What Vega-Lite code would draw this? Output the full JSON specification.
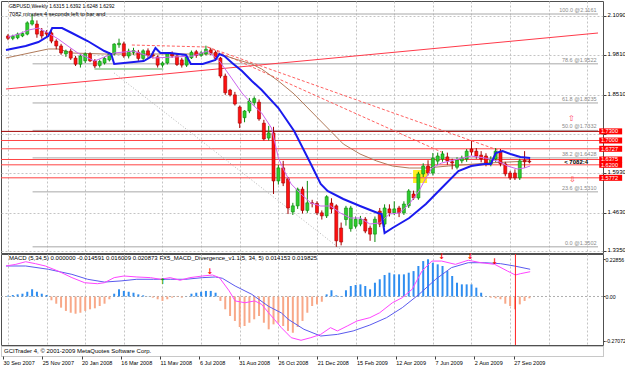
{
"$schema": "https://vega.github.io/schema/vega-lite/v6.json",
"background": "#ffffff",
"padding": 0,
"spacing": 1,
"bounds": "flush",
"resolve": {"scale": {"x": "independent", "y": "independent"}},
"config": {
  "font": "Liberation Sans",
  "view": {"stroke": "#505050", "strokeWidth": 1},
  "axis": {"labelFont": "Liberation Sans", "labelFontSize": 6, "labelColor": "#000000", "tickColor": "#404040", "domain": false, "gridColor": "#c4c4c4", "gridDash": [2, 2], "gridWidth": 1}
},
"datasets": {
  "candles": [
    {"t":0,"o":2.044,"h":2.05,"l":2.03,"c":2.036},{"t":1,"o":2.036,"h":2.048,"l":2.03,"c":2.043},{"t":2,"o":2.038,"h":2.055,"l":2.033,"c":2.05},{"t":3,"o":2.044,"h":2.058,"l":2.04,"c":2.052},{"t":4,"o":2.05,"h":2.092,"l":2.046,"c":2.087},{"t":5,"o":2.083,"h":2.1161,"l":2.078,"c":2.094},{"t":6,"o":2.083,"h":2.095,"l":2.038,"c":2.05},{"t":7,"o":2.06,"h":2.07,"l":2.035,"c":2.044},{"t":8,"o":2.055,"h":2.063,"l":2.04,"c":2.05},{"t":9,"o":2.054,"h":2.06,"l":2.02,"c":2.027},
    {"t":10,"o":2.027,"h":2.033,"l":2.0,"c":2.011},{"t":11,"o":2.011,"h":2.018,"l":1.982,"c":1.988},{"t":12,"o":1.985,"h":1.999,"l":1.975,"c":1.994},{"t":13,"o":1.994,"h":2.002,"l":1.965,"c":1.971},{"t":14,"o":1.971,"h":1.978,"l":1.945,"c":1.951},{"t":15,"o":1.951,"h":1.985,"l":1.94,"c":1.978},{"t":16,"o":1.962,"h":1.99,"l":1.955,"c":1.985},{"t":17,"o":1.985,"h":1.99,"l":1.958,"c":1.962},{"t":18,"o":1.962,"h":1.968,"l":1.938,"c":1.945},{"t":19,"o":1.947,"h":1.966,"l":1.94,"c":1.96},
    {"t":20,"o":1.955,"h":1.975,"l":1.95,"c":1.97},{"t":21,"o":1.965,"h":1.99,"l":1.96,"c":1.985},{"t":22,"o":1.985,"h":2.02,"l":1.98,"c":2.017},{"t":23,"o":2.015,"h":2.035,"l":2.005,"c":2.02},{"t":24,"o":2.018,"h":2.025,"l":1.972,"c":1.978},{"t":25,"o":1.978,"h":2.002,"l":1.97,"c":1.994},{"t":26,"o":1.99,"h":2.005,"l":1.982,"c":1.996},{"t":27,"o":1.99,"h":1.998,"l":1.962,"c":1.97},{"t":28,"o":1.97,"h":2.0,"l":1.962,"c":1.995},{"t":29,"o":1.995,"h":2.003,"l":1.972,"c":1.98},
    {"t":30,"o":1.982,"h":1.992,"l":1.97,"c":1.978},{"t":31,"o":1.975,"h":1.98,"l":1.94,"c":1.948},{"t":32,"o":1.948,"h":1.96,"l":1.94,"c":1.955},{"t":33,"o":1.955,"h":1.99,"l":1.95,"c":1.985},{"t":34,"o":1.985,"h":1.993,"l":1.972,"c":1.978},{"t":35,"o":1.978,"h":1.985,"l":1.945,"c":1.95},{"t":36,"o":1.965,"h":1.972,"l":1.94,"c":1.948},{"t":37,"o":1.948,"h":1.98,"l":1.942,"c":1.975},{"t":38,"o":1.972,"h":1.996,"l":1.968,"c":1.99},{"t":39,"o":1.992,"h":1.998,"l":1.972,"c":1.98},
    {"t":40,"o":1.98,"h":1.994,"l":1.975,"c":1.988},{"t":41,"o":1.985,"h":2.012,"l":1.98,"c":2.0},{"t":42,"o":1.998,"h":2.005,"l":1.982,"c":1.988},{"t":43,"o":1.99,"h":1.996,"l":1.965,"c":1.97},{"t":44,"o":1.971,"h":1.975,"l":1.905,"c":1.912},{"t":45,"o":1.912,"h":1.92,"l":1.85,"c":1.857},{"t":46,"o":1.866,"h":1.87,"l":1.845,"c":1.85},{"t":47,"o":1.85,"h":1.86,"l":1.815,"c":1.82},{"t":48,"o":1.81,"h":1.815,"l":1.741,"c":1.757},{"t":49,"o":1.775,"h":1.8,"l":1.76,"c":1.797},
    {"t":50,"o":1.797,"h":1.84,"l":1.79,"c":1.83},{"t":51,"o":1.825,"h":1.845,"l":1.815,"c":1.838},{"t":52,"o":1.826,"h":1.835,"l":1.765,"c":1.771},{"t":53,"o":1.757,"h":1.768,"l":1.7,"c":1.705},{"t":54,"o":1.708,"h":1.748,"l":1.7,"c":1.725},{"t":55,"o":1.725,"h":1.745,"l":1.524,"c":1.567},{"t":56,"o":1.567,"h":1.62,"l":1.555,"c":1.61},{"t":57,"o":1.61,"h":1.633,"l":1.55,"c":1.56},{"t":58,"o":1.574,"h":1.58,"l":1.458,"c":1.478},{"t":59,"o":1.465,"h":1.495,"l":1.455,"c":1.485},
    {"t":60,"o":1.485,"h":1.545,"l":1.475,"c":1.54},{"t":61,"o":1.54,"h":1.548,"l":1.46,"c":1.47},{"t":62,"o":1.47,"h":1.567,"l":1.462,"c":1.495},{"t":63,"o":1.495,"h":1.505,"l":1.48,"c":1.493},{"t":64,"o":1.493,"h":1.5,"l":1.455,"c":1.462},{"t":65,"o":1.462,"h":1.47,"l":1.44,"c":1.452},{"t":66,"o":1.452,"h":1.52,"l":1.445,"c":1.515},{"t":67,"o":1.494,"h":1.51,"l":1.46,"c":1.475},{"t":68,"o":1.485,"h":1.49,"l":1.3502,"c":1.37},{"t":69,"o":1.412,"h":1.43,"l":1.355,"c":1.366},
    {"t":70,"o":1.44,"h":1.485,"l":1.42,"c":1.478},{"t":71,"o":1.41,"h":1.485,"l":1.4,"c":1.478},{"t":72,"o":1.418,"h":1.45,"l":1.41,"c":1.441},{"t":73,"o":1.425,"h":1.452,"l":1.418,"c":1.441},{"t":74,"o":1.441,"h":1.448,"l":1.395,"c":1.402},{"t":75,"o":1.412,"h":1.42,"l":1.37,"c":1.392},{"t":76,"o":1.392,"h":1.45,"l":1.366,"c":1.441},{"t":77,"o":1.468,"h":1.478,"l":1.415,"c":1.425},{"t":78,"o":1.425,"h":1.49,"l":1.415,"c":1.478},{"t":79,"o":1.475,"h":1.49,"l":1.45,"c":1.462},
    {"t":80,"o":1.462,"h":1.5,"l":1.455,"c":1.475},{"t":81,"o":1.478,"h":1.485,"l":1.448,"c":1.462},{"t":82,"o":1.462,"h":1.5,"l":1.455,"c":1.491},{"t":83,"o":1.485,"h":1.54,"l":1.478,"c":1.534},{"t":84,"o":1.524,"h":1.535,"l":1.505,"c":1.511},{"t":85,"o":1.511,"h":1.597,"l":1.505,"c":1.59},{"t":86,"o":1.59,"h":1.625,"l":1.58,"c":1.616},{"t":87,"o":1.616,"h":1.635,"l":1.585,"c":1.593},{"t":88,"o":1.593,"h":1.659,"l":1.585,"c":1.642},{"t":89,"o":1.632,"h":1.66,"l":1.62,"c":1.649},
    {"t":90,"o":1.639,"h":1.665,"l":1.63,"c":1.656},{"t":91,"o":1.646,"h":1.66,"l":1.62,"c":1.633},{"t":92,"o":1.63,"h":1.64,"l":1.605,"c":1.626},{"t":93,"o":1.612,"h":1.645,"l":1.605,"c":1.636},{"t":94,"o":1.633,"h":1.65,"l":1.625,"c":1.642},{"t":95,"o":1.639,"h":1.672,"l":1.63,"c":1.665},{"t":96,"o":1.672,"h":1.698,"l":1.65,"c":1.662},{"t":97,"o":1.665,"h":1.675,"l":1.64,"c":1.649},{"t":98,"o":1.652,"h":1.665,"l":1.628,"c":1.639},{"t":99,"o":1.649,"h":1.658,"l":1.615,"c":1.626},
    {"t":100,"o":1.623,"h":1.648,"l":1.615,"c":1.639},{"t":101,"o":1.639,"h":1.675,"l":1.63,"c":1.665},{"t":102,"o":1.665,"h":1.672,"l":1.615,"c":1.623},{"t":103,"o":1.623,"h":1.63,"l":1.582,"c":1.59},{"t":104,"o":1.593,"h":1.6,"l":1.57,"c":1.577},{"t":105,"o":1.593,"h":1.605,"l":1.57,"c":1.577},{"t":106,"o":1.577,"h":1.64,"l":1.57,"c":1.633},{"t":107,"o":1.635,"h":1.665,"l":1.61,"c":1.63},{"t":108,"o":1.6315,"h":1.6392,"l":1.6248,"c":1.6292}
  ],
  "lines": [
    {"s":"hma","t":-0.41,"p":1.9977},{"s":"hma","t":3.67,"p":2.0108},{"s":"hma","t":6.31,"p":2.024},{"s":"hma","t":8.35,"p":2.0437},{"s":"hma","t":9.16,"p":2.07},{"s":"hma","t":11.2,"p":2.07},{"s":"hma","t":13.24,"p":2.0536},{"s":"hma","t":16.5,"p":2.0273},{"s":"hma","t":19.96,"p":1.9944},{"s":"hma","t":21.38,"p":1.9845},{"s":"hma","t":22.0,"p":1.9516},{"s":"hma","t":28.11,"p":1.9615},{"s":"hma","t":29.53,"p":1.9747},{"s":"hma","t":30.55,"p":2.0043},{"s":"hma","t":31.57,"p":1.9878},{"s":"hma","t":33.6,"p":1.9878},{"s":"hma","t":36.86,"p":1.9812},{"s":"hma","t":37.88,"p":1.9516},{"s":"hma","t":40.33,"p":1.9516},{"s":"hma","t":42.97,"p":1.9648},{"s":"hma","t":43.79,"p":1.9845},{"s":"hma","t":44.81,"p":1.9779},{"s":"hma","t":46.44,"p":1.9549},{"s":"hma","t":48.47,"p":1.9286},{"s":"hma","t":50.51,"p":1.8957},{"s":"hma","t":52.55,"p":1.8661},{"s":"hma","t":56.01,"p":1.8069},{"s":"hma","t":59.27,"p":1.7312},{"s":"hma","t":62.73,"p":1.6227},{"s":"hma","t":64.77,"p":1.5569},{"s":"hma","t":66.19,"p":1.5339},{"s":"hma","t":69.45,"p":1.5075},{"s":"hma","t":72.91,"p":1.4845},{"s":"hma","t":76.58,"p":1.4615},{"s":"hma","t":77.39,"p":1.4582},{"s":"hma","t":78.0,"p":1.3957},{"s":"hma","t":79.63,"p":1.4122},{"s":"hma","t":83.1,"p":1.445},{"s":"hma","t":86.56,"p":1.4911},{"s":"hma","t":89.82,"p":1.5437},{"s":"hma","t":93.28,"p":1.5997},{"s":"hma","t":95.93,"p":1.6161},{"s":"hma","t":98.78,"p":1.6227},{"s":"hma","t":100.0,"p":1.6227},{"s":"hma","t":101.02,"p":1.6589},{"s":"hma","t":102.44,"p":1.6654},{"s":"hma","t":104.07,"p":1.6556},{"s":"hma","t":106.11,"p":1.6457},{"s":"hma","t":108.15,"p":1.6424},
    {"s":"ema","t":0,"p":2.0404},{"s":"ema","t":2.24,"p":2.0503},{"s":"ema","t":4.28,"p":2.0635},{"s":"ema","t":6.31,"p":2.07},{"s":"ema","t":8.35,"p":2.0536},{"s":"ema","t":10.39,"p":2.0339},{"s":"ema","t":12.42,"p":2.0108},{"s":"ema","t":14.46,"p":1.9878},{"s":"ema","t":17.92,"p":1.9615},{"s":"ema","t":22.0,"p":1.9878},{"s":"ema","t":26.07,"p":1.9944},{"s":"ema","t":30.14,"p":1.9714},{"s":"ema","t":34.22,"p":1.9747},{"s":"ema","t":38.29,"p":1.9779},{"s":"ema","t":41.34,"p":1.9944},{"s":"ema","t":43.79,"p":1.9615},{"s":"ema","t":46.44,"p":1.9023},{"s":"ema","t":48.47,"p":1.8562},{"s":"ema","t":50.51,"p":1.82},{"s":"ema","t":52.55,"p":1.7904},{"s":"ema","t":54.58,"p":1.7411},{"s":"ema","t":56.01,"p":1.6424},{"s":"ema","t":57.23,"p":1.5997},{"s":"ema","t":58.66,"p":1.5569},{"s":"ema","t":60.69,"p":1.524},{"s":"ema","t":62.73,"p":1.4944},{"s":"ema","t":64.77,"p":1.4845},{"s":"ema","t":66.8,"p":1.4845},{"s":"ema","t":68.84,"p":1.4615},{"s":"ema","t":70.88,"p":1.445},{"s":"ema","t":72.91,"p":1.445},{"s":"ema","t":74.95,"p":1.4253},{"s":"ema","t":76.99,"p":1.4286},{"s":"ema","t":79.02,"p":1.4582},{"s":"ema","t":81.06,"p":1.4615},{"s":"ema","t":83.1,"p":1.4911},{"s":"ema","t":85.13,"p":1.5339},{"s":"ema","t":86.56,"p":1.5766},{"s":"ema","t":87.78,"p":1.6095},{"s":"ema","t":89.82,"p":1.626},{"s":"ema","t":93.28,"p":1.6391},{"s":"ema","t":95.93,"p":1.649},{"s":"ema","t":98.78,"p":1.6424},{"s":"ema","t":101.43,"p":1.6325},{"s":"ema","t":103.46,"p":1.6161},{"s":"ema","t":105.5,"p":1.6062},{"s":"ema","t":106.92,"p":1.6095},{"s":"ema","t":108.15,"p":1.6161},
    {"s":"sma","t":-0.41,"p":1.9714},{"s":"sma","t":8.35,"p":2.001},{"s":"sma","t":10.39,"p":2.001},{"s":"sma","t":13.24,"p":1.9878},{"s":"sma","t":19.96,"p":1.9845},{"s":"sma","t":40.33,"p":1.9845},{"s":"sma","t":43.79,"p":1.9845},{"s":"sma","t":47.05,"p":1.9681},{"s":"sma","t":50.51,"p":1.9516},{"s":"sma","t":52.55,"p":1.9352},{"s":"sma","t":56.01,"p":1.8957},{"s":"sma","t":59.27,"p":1.8529},{"s":"sma","t":62.73,"p":1.797},{"s":"sma","t":66.19,"p":1.7411},{"s":"sma","t":69.45,"p":1.6885},{"s":"sma","t":72.91,"p":1.6556},{"s":"sma","t":76.37,"p":1.6325},{"s":"sma","t":79.63,"p":1.6161},{"s":"sma","t":83.1,"p":1.6095},{"s":"sma","t":86.56,"p":1.6095},{"s":"sma","t":91.24,"p":1.6161},{"s":"sma","t":99.39,"p":1.626},{"s":"sma","t":108.15,"p":1.6326},
    {"s":"trend","t":-0.41,"p":1.8694},{"s":"trend","t":122.2,"p":2.0536},
    {"s":"dA1","t":25.66,"p":2.0141},{"s":"dA1","t":41.34,"p":2.0075},
    {"s":"dA2","t":41.34,"p":2.0075},{"s":"dA2","t":101.43,"p":1.6687},
    {"s":"dB","t":41.34,"p":2.0075},{"s":"dB","t":90.22,"p":1.6589},
    {"s":"diag","t":22.0,"p":1.922},{"s":"diag","t":68.84,"p":1.3431},
    {"s":"green","t":17.92,"p":1.9352},{"s":"green","t":32.18,"p":1.9352}
  ],
  "fibs": [
    {"p":2.1161,"lab":"100.0 @2.1161"},{"p":1.9522,"lab":"78.6 @1.9522"},{"p":1.8235,"lab":"61.8 @1.8235"},{"p":1.7332,"lab":"50.0 @1.7332"},{"p":1.6428,"lab":"38.2 @1.6428"},{"p":1.531,"lab":"23.6 @1.5310"},{"p":1.3502,"lab":"0.0 @1.3502"}
  ],
  "levels": [
    {"p":1.73,"lab":"1.7300"},{"p":1.7,"lab":"1.7000"},{"p":1.6727,"lab":"1.6727"},{"p":1.6375,"lab":"1.6375"},{"p":1.62,"lab":"1.6200"},{"p":1.5772,"lab":"1.5772"}
  ],
  "hist": [
    {"t":0,"h":0.005},{"t":1,"h":0.009},{"t":2,"h":0.013},{"t":3,"h":0.017},{"t":4,"h":0.029},{"t":5,"h":0.044},{"t":6,"h":0.029},{"t":7,"h":0.017},{"t":8,"h":0.009},{"t":9,"h":-0.023},
    {"t":10,"h":-0.044},{"t":11,"h":-0.068},{"t":12,"h":-0.088},{"t":13,"h":-0.099},{"t":14,"h":-0.105},{"t":15,"h":-0.099},{"t":16,"h":-0.088},{"t":17,"h":-0.078},{"t":18,"h":-0.072},{"t":19,"h":-0.058},
    {"t":20,"h":-0.044},{"t":21,"h":-0.017},{"t":22,"h":0.017},{"t":23,"h":0.044},{"t":24,"h":0.034},{"t":25,"h":0.029},{"t":26,"h":0.023},{"t":27,"h":0.013},{"t":28,"h":0.007},{"t":29,"h":0.001},
    {"t":30,"h":-0.007},{"t":31,"h":-0.017},{"t":32,"h":-0.027},{"t":33,"h":-0.017},{"t":34,"h":-0.007},{"t":35,"h":-0.003},{"t":36,"h":-0.007},{"t":37,"h":0.001},{"t":38,"h":0.017},{"t":39,"h":0.023},
    {"t":40,"h":0.029},{"t":41,"h":0.034},{"t":42,"h":0.034},{"t":43,"h":0.023},{"t":44,"h":-0.027},{"t":45,"h":-0.078},{"t":46,"h":-0.119},{"t":47,"h":-0.149},{"t":48,"h":-0.186},{"t":49,"h":-0.18},
    {"t":50,"h":-0.16},{"t":51,"h":-0.139},{"t":52,"h":-0.119},{"t":53,"h":-0.16},{"t":54,"h":-0.2},{"t":55,"h":-0.17},{"t":56,"h":-0.16},{"t":57,"h":-0.18},{"t":58,"h":-0.21},{"t":59,"h":-0.221},
    {"t":60,"h":-0.186},{"t":61,"h":-0.149},{"t":62,"h":-0.099},{"t":63,"h":-0.058},{"t":64,"h":-0.048},{"t":65,"h":-0.032},{"t":66,"h":0.013},{"t":67,"h":0.038},{"t":68,"h":0.007},{"t":69,"h":0.003},
    {"t":70,"h":0.038},{"t":71,"h":0.064},{"t":72,"h":0.07},{"t":73,"h":0.074},{"t":74,"h":0.064},{"t":75,"h":0.044},{"t":76,"h":0.084},{"t":77,"h":0.105},{"t":78,"h":0.131},{"t":79,"h":0.145},
    {"t":80,"h":0.135},{"t":81,"h":0.135},{"t":82,"h":0.135},{"t":83,"h":0.145},{"t":84,"h":0.155},{"t":85,"h":0.186},{"t":86,"h":0.216},{"t":87,"h":0.227},{"t":88,"h":0.206},{"t":89,"h":0.196},
    {"t":90,"h":0.186},{"t":91,"h":0.155},{"t":92,"h":0.125},{"t":93,"h":0.084},{"t":94,"h":0.074},{"t":95,"h":0.074},{"t":96,"h":0.074},{"t":97,"h":0.054},{"t":98,"h":0.023},{"t":99,"h":0.001},
    {"t":100,"h":-0.007},{"t":101,"h":-0.011},{"t":102,"h":-0.017},{"t":103,"h":-0.044},{"t":104,"h":-0.058},{"t":105,"h":-0.078},{"t":106,"h":-0.048},{"t":107,"h":-0.027},{"t":108,"h":-0.011}
  ],
  "macdlines": [
    {"s":"sig","t":-0.41,"v":0.186},{"s":"sig","t":3.67,"v":0.186},{"s":"sig","t":8.35,"v":0.166},{"s":"sig","t":13.24,"v":0.135},{"s":"sig","t":16.5,"v":0.105},{"s":"sig","t":19.96,"v":0.088},{"s":"sig","t":23.42,"v":0.095},{"s":"sig","t":26.68,"v":0.105},{"s":"sig","t":30.14,"v":0.105},{"s":"sig","t":33.6,"v":0.105},{"s":"sig","t":36.86,"v":0.105},{"s":"sig","t":40.33,"v":0.115},{"s":"sig","t":42.97,"v":0.119},{"s":"sig","t":44.4,"v":0.111},{"s":"sig","t":47.05,"v":0.064},{"s":"sig","t":50.51,"v":0.013},{"s":"sig","t":53.97,"v":-0.06},{"s":"sig","t":56.62,"v":-0.1},{"s":"sig","t":58.04,"v":-0.139},{"s":"sig","t":61.3,"v":-0.2},{"s":"sig","t":64.77,"v":-0.241},{"s":"sig","t":68.23,"v":-0.231},{"s":"sig","t":71.49,"v":-0.21},{"s":"sig","t":74.95,"v":-0.174},{"s":"sig","t":78.41,"v":-0.129},{"s":"sig","t":81.67,"v":-0.068},{"s":"sig","t":85.13,"v":0.013},{"s":"sig","t":88.59,"v":0.105},{"s":"sig","t":91.85,"v":0.176},{"s":"sig","t":95.32,"v":0.206},{"s":"sig","t":98.78,"v":0.206},{"s":"sig","t":102.04,"v":0.2},{"s":"sig","t":104.89,"v":0.186},{"s":"sig","t":108.15,"v":0.166},
    {"s":"main","t":-0.41,"v":0.186},{"s":"main","t":1.63,"v":0.196},{"s":"main","t":3.67,"v":0.212},{"s":"main","t":5.7,"v":0.2},{"s":"main","t":7.74,"v":0.186},{"s":"main","t":10.39,"v":0.155},{"s":"main","t":13.24,"v":0.115},{"s":"main","t":15.89,"v":0.084},{"s":"main","t":18.53,"v":0.078},{"s":"main","t":19.96,"v":0.084},{"s":"main","t":22.0,"v":0.115},{"s":"main","t":24.03,"v":0.125},{"s":"main","t":26.68,"v":0.119},{"s":"main","t":29.53,"v":0.115},{"s":"main","t":31.57,"v":0.105},{"s":"main","t":33.6,"v":0.115},{"s":"main","t":35.64,"v":0.099},{"s":"main","t":37.68,"v":0.115},{"s":"main","t":40.33,"v":0.125},{"s":"main","t":42.36,"v":0.131},{"s":"main","t":43.79,"v":0.115},{"s":"main","t":45.82,"v":0.034},{"s":"main","t":47.05,"v":-0.027},{"s":"main","t":49.08,"v":-0.038},{"s":"main","t":51.12,"v":-0.027},{"s":"main","t":52.55,"v":-0.048},{"s":"main","t":53.97,"v":-0.099},{"s":"main","t":55.19,"v":-0.14},{"s":"main","t":56.62,"v":-0.19},{"s":"main","t":58.66,"v":-0.251},{"s":"main","t":60.69,"v":-0.267},{"s":"main","t":62.73,"v":-0.251},{"s":"main","t":64.77,"v":-0.231},{"s":"main","t":66.8,"v":-0.19},{"s":"main","t":68.23,"v":-0.21},{"s":"main","t":70.26,"v":-0.18},{"s":"main","t":72.3,"v":-0.149},{"s":"main","t":74.95,"v":-0.129},{"s":"main","t":76.99,"v":-0.099},{"s":"main","t":79.63,"v":-0.038},{"s":"main","t":81.67,"v":-0.007},{"s":"main","t":83.71,"v":0.044},{"s":"main","t":85.74,"v":0.155},{"s":"main","t":87.78,"v":0.216},{"s":"main","t":89.82,"v":0.216},{"s":"main","t":92.67,"v":0.196},{"s":"main","t":95.32,"v":0.221},{"s":"main","t":97.96,"v":0.206},{"s":"main","t":100.81,"v":0.196},{"s":"main","t":103.46,"v":0.155},{"s":"main","t":105.09,"v":0.131},{"s":"main","t":106.11,"v":0.139},{"s":"main","t":108.15,"v":0.151}
  ],
  "signals": [
    {"t":41.8,"v":0.15,"k":"bear"},{"t":89.8,"v":0.238,"k":"bear"},{"t":95.7,"v":0.242,"k":"bear"},{"t":100.8,"v":0.21,"k":"bear"},{"t":32.0,"v":0.09,"k":"bull"}
  ]
},
"vconcat": [
  {
    "width": 602,
    "height": 252,
    "layer": [
      {
        "data": {"values": [{"t1": 83.9, "t2": 86.8, "p1": 1.5602, "p2": 1.6029}]},
        "mark": {"type": "rect", "color": "#ffee22"},
        "encoding": {
          "x": {"field": "t1", "type": "quantitative", "scale": {"domain": [-0.407, 122.2], "nice": false, "zero": false},
                "axis": {"title": null, "values": [0,4,8,12,16,20,24,28,32,36,40,44,48,52,56,60,64,68,72,76,80,84,88,92,96,100,104,108,112,116,120], "labels": false, "ticks": false, "grid": true}},
          "x2": {"field": "t2"},
          "y": {"field": "p1", "type": "quantitative", "scale": {"domain": [1.3299, 2.1589], "nice": false, "zero": false},
                "axis": {"title": null, "orient": "right", "values": [2.109, 2.045, 1.981, 1.915, 1.851, 1.787, 1.723, 1.657, 1.593, 1.527, 1.463, 1.399, 1.335], "labelExpr": "datum.value == 1.723 ? '' : format(datum.value, '.4f')", "grid": true, "tickSize": 3, "labelPadding": 1, "labelOffset": -1.5}},
          "y2": {"field": "p2"}
        }
      },
      {
        "data": {"name": "fibs"},
        "mark": {"type": "rule", "color": "#a8a8a8", "strokeWidth": 1},
        "encoding": {
          "x": {"datum": 5.1, "type": "quantitative"},
          "x2": {"datum": 122.2},
          "y": {"field": "p", "type": "quantitative"}
        }
      },
      {
        "data": {"name": "levels"},
        "mark": {"type": "rule", "strokeWidth": 1},
        "encoding": {
          "y": {"field": "p", "type": "quantitative"},
          "color": {"condition": {"test": "datum.p == 1.73", "value": "#a00000"}, "value": "#ff4444"}
        }
      },
      {
        "data": {"name": "lines"},
        "transform": [{"filter": "datum.s == 'diag'"}],
        "mark": {"type": "line", "color": "#b4b4b4", "strokeWidth": 1, "strokeDash": [1, 2]},
        "encoding": {"x": {"field": "t", "type": "quantitative"}, "y": {"field": "p", "type": "quantitative"}}
      },
      {
        "data": {"name": "lines"},
        "transform": [{"filter": "datum.s == 'trend'"}],
        "mark": {"type": "line", "color": "#ff3a4a", "strokeWidth": 1},
        "encoding": {"x": {"field": "t", "type": "quantitative"}, "y": {"field": "p", "type": "quantitative"}}
      },
      {
        "data": {"name": "lines"},
        "transform": [{"filter": "datum.s == 'dA1' || datum.s == 'dA2' || datum.s == 'dB'"}],
        "mark": {"type": "line", "color": "#ff6060", "strokeWidth": 1, "strokeDash": [3, 2]},
        "encoding": {"x": {"field": "t", "type": "quantitative"}, "y": {"field": "p", "type": "quantitative"}, "detail": {"field": "s"}}
      },
      {
        "data": {"name": "lines"},
        "transform": [{"filter": "datum.s == 'green'"}],
        "mark": {"type": "line", "color": "#55aa55", "strokeWidth": 1},
        "encoding": {"x": {"field": "t", "type": "quantitative"}, "y": {"field": "p", "type": "quantitative"}}
      },
      {
        "data": {"name": "lines"},
        "transform": [{"filter": "datum.s == 'sma'"}],
        "mark": {"type": "line", "color": "#b07a5a", "strokeWidth": 1},
        "encoding": {"x": {"field": "t", "type": "quantitative"}, "y": {"field": "p", "type": "quantitative"}}
      },
      {
        "data": {"name": "candles"},
        "mark": {"type": "rule", "strokeWidth": 1},
        "encoding": {
          "x": {"field": "t", "type": "quantitative"},
          "y": {"field": "l", "type": "quantitative"},
          "y2": {"field": "h"},
          "color": {"condition": {"test": "datum.c >= datum.o", "value": "#0a8a0a"}, "value": "#a00000"}
        }
      },
      {
        "data": {"name": "candles"},
        "mark": {"type": "bar", "width": 3, "strokeWidth": 0.6},
        "encoding": {
          "x": {"field": "t", "type": "quantitative"},
          "y": {"field": "o", "type": "quantitative"},
          "y2": {"field": "c"},
          "fill": {"condition": {"test": "datum.c >= datum.o", "value": "#2ecc2e"}, "value": "#ff1010"},
          "stroke": {"condition": {"test": "datum.c >= datum.o", "value": "#0a8a0a"}, "value": "#a00000"}
        }
      },
      {
        "data": {"name": "lines"},
        "transform": [{"filter": "datum.s == 'ema'"}],
        "mark": {"type": "line", "color": "#cc66ee", "strokeWidth": 1},
        "encoding": {"x": {"field": "t", "type": "quantitative"}, "y": {"field": "p", "type": "quantitative"}}
      },
      {
        "data": {"name": "lines"},
        "transform": [{"filter": "datum.s == 'hma'"}],
        "mark": {"type": "line", "color": "#1a1aee", "strokeWidth": 2},
        "encoding": {"x": {"field": "t", "type": "quantitative"}, "y": {"field": "p", "type": "quantitative"}}
      },
      {
        "data": {"name": "fibs"},
        "mark": {"type": "text", "align": "right", "baseline": "bottom", "dy": -1, "fontSize": 5.5, "color": "#8a8a8a"},
        "encoding": {
          "x": {"datum": 121.9, "type": "quantitative"},
          "y": {"field": "p", "type": "quantitative"},
          "text": {"field": "lab"}
        }
      },
      {
        "data": {"values": [{"txt": "GBPUSD,Weekly  1.6315 1.6392 1.6248 1.6292"}]},
        "mark": {"type": "text", "align": "left", "baseline": "middle", "fontSize": 5, "color": "#000000"},
        "encoding": {"x": {"datum": 0.2, "type": "quantitative"}, "y": {"datum": 2.1425, "type": "quantitative"}, "text": {"field": "txt"}}
      },
      {
        "data": {"values": [{"txt": "7082 minutes 4 seconds left to bar and"}]},
        "mark": {"type": "text", "align": "left", "baseline": "middle", "fontSize": 5.6, "color": "#000000"},
        "encoding": {"x": {"datum": 0.2, "type": "quantitative"}, "y": {"datum": 2.1161, "type": "quantitative"}, "text": {"field": "txt"}}
      },
      {
        "data": {"values": [{"txt": "< 7082:4"}]},
        "mark": {"type": "text", "align": "left", "baseline": "middle", "fontSize": 6, "fontWeight": "bold", "color": "#000000"},
        "encoding": {"x": {"datum": 115.2, "type": "quantitative"}, "y": {"datum": 1.6285, "type": "quantitative"}, "text": {"field": "txt"}}
      },
      {
        "data": {"values": [{"txt": "⇧"}]},
        "mark": {"type": "text", "align": "center", "baseline": "middle", "fontSize": 8, "font": "DejaVu Sans", "color": "#ff4060"},
        "encoding": {"x": {"datum": 116.7, "type": "quantitative"}, "y": {"datum": 1.771, "type": "quantitative"}, "text": {"field": "txt"}}
      },
      {
        "data": {"values": [{"txt": "⇩"}]},
        "mark": {"type": "text", "align": "center", "baseline": "middle", "fontSize": 8, "font": "DejaVu Sans", "color": "#ff3030"},
        "encoding": {"x": {"datum": 116.9, "type": "quantitative"}, "y": {"datum": 1.5705, "type": "quantitative"}, "text": {"field": "txt"}}
      },
      {
        "data": {"name": "levels"},
        "mark": {"type": "rule", "strokeWidth": 6, "strokeCap": "butt", "color": "#ff0000"},
        "encoding": {
          "x": {"datum": 122.45, "type": "quantitative"},
          "x2": {"datum": 127.2},
          "y": {"field": "p", "type": "quantitative"}
        }
      },
      {
        "data": {"name": "levels"},
        "mark": {"type": "text", "align": "left", "baseline": "middle", "fontSize": 5.6, "color": "#ffffff"},
        "encoding": {
          "x": {"datum": 122.8, "type": "quantitative"},
          "y": {"field": "p", "type": "quantitative"},
          "text": {"field": "lab"}
        }
      }
    ]
  },
  {
    "width": 602,
    "height": 91,
    "layer": [
      {
        "data": {"values": [{"z": 0}]},
        "mark": {"type": "rule", "color": "#b0b0b0", "strokeDash": [2, 2]},
        "encoding": {"y": {"field": "z", "type": "quantitative"}}
      },
      {
        "data": {"name": "hist"},
        "mark": {"type": "bar", "width": 2},
        "encoding": {
          "x": {"field": "t", "type": "quantitative", "scale": {"domain": [-0.407, 122.2], "nice": false, "zero": false},
                "axis": {"title": null, "values": [0,4,8,12,16,20,24,28,32,36,40,44,48,52,56,60,64,68,72,76,80,84,88,92,96,100,104,108,112,116,120], "labels": false, "ticks": false, "grid": true}},
          "y": {"field": "h", "type": "quantitative", "scale": {"domain": [-0.2957, 0.2591], "nice": false, "zero": false},
                "axis": {"title": null, "orient": "right", "values": [0.22856, 0, -0.27072], "labelExpr": "datum.value > 0.1 ? '0.22856' : (datum.value < -0.1 ? '-0.27072' : '0.00')", "grid": false, "tickSize": 2, "labelPadding": 0, "labelFontSize": 5.2}},
          "y2": {"datum": 0},
          "color": {"condition": {"test": "datum.h > 0", "value": "#2f8ef0"}, "value": "#f8a888"}
        }
      },
      {
        "data": {"name": "macdlines"},
        "transform": [{"filter": "datum.s == 'sig'"}],
        "mark": {"type": "line", "color": "#5a5aee", "strokeWidth": 1},
        "encoding": {"x": {"field": "t", "type": "quantitative"}, "y": {"field": "v", "type": "quantitative"}}
      },
      {
        "data": {"name": "macdlines"},
        "transform": [{"filter": "datum.s == 'main'"}],
        "mark": {"type": "line", "color": "#ff44ff", "strokeWidth": 1},
        "encoding": {"x": {"field": "t", "type": "quantitative"}, "y": {"field": "v", "type": "quantitative"}}
      },
      {
        "data": {"values": [{"tv": 105.1}]},
        "mark": {"type": "rule", "color": "#ff2020", "strokeWidth": 1},
        "encoding": {"x": {"field": "tv", "type": "quantitative"}}
      },
      {
        "data": {"name": "signals"},
        "transform": [{"filter": "datum.k == 'bear'"}],
        "mark": {"type": "text", "text": "↓", "fontSize": 8, "font": "DejaVu Sans", "fontWeight": "bold", "color": "#ff0000", "baseline": "middle"},
        "encoding": {"x": {"field": "t", "type": "quantitative"}, "y": {"field": "v", "type": "quantitative"}}
      },
      {
        "data": {"name": "signals"},
        "transform": [{"filter": "datum.k == 'bull'"}],
        "mark": {"type": "text", "text": "↑", "fontSize": 8, "font": "DejaVu Sans", "fontWeight": "bold", "color": "#00a000", "baseline": "middle"},
        "encoding": {"x": {"field": "t", "type": "quantitative"}, "y": {"field": "v", "type": "quantitative"}}
      },
      {
        "data": {"values": [{"txt": "MACD (5,34,5) 0.000000 -0.014591 0.016009 0.020873   FX5_MACD_Divergence_v1.1(5, 34, 5) 0.014153 0.019825"}]},
        "mark": {"type": "text", "align": "left", "baseline": "middle", "fontSize": 6, "color": "#000000"},
        "encoding": {"x": {"datum": 0.2, "type": "quantitative"}, "y": {"datum": 0.235, "type": "quantitative"}, "text": {"field": "txt"}}
      }
    ]
  },
  {
    "width": 602,
    "height": 10,
    "view": {"stroke": "#909090", "strokeDash": [1, 1]},
    "data": {"values": [{"txt": "GCITrader 4, © 2001-2009 MetaQuotes Software Corp."}]},
    "mark": {"type": "text", "align": "left", "baseline": "middle", "fontSize": 6, "color": "#000000"},
    "encoding": {
      "x": {"datum": 0.2, "type": "quantitative", "scale": {"domain": [-0.407, 122.2], "nice": false, "zero": false},
            "axis": {"title": null, "values": [0,8,16,24,32,40,48,56,64,72,80,88,96,104], "labelExpr": "timeFormat(datetime(2007, 8, 30 + datum.value * 7), '%-d %b %Y')", "labelAlign": "left", "labelPadding": 1, "tickSize": 3, "labelFontSize": 5.5, "grid": false, "labelFlush": false, "labelOverlap": false}},
      "text": {"field": "txt"}
    }
  }
]
}
